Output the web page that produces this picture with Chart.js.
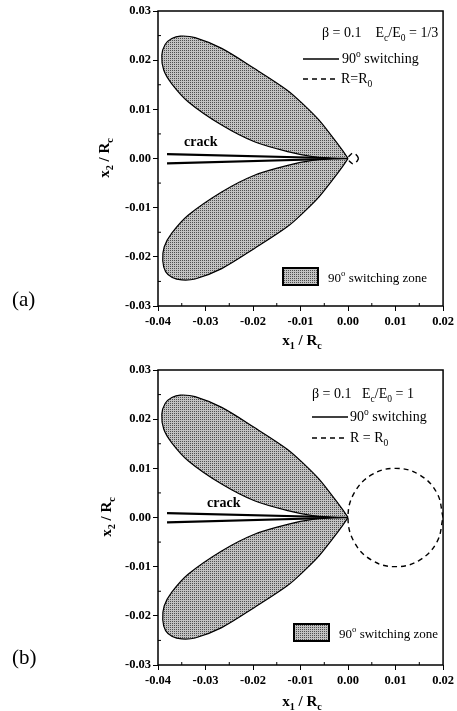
<!DOCTYPE html>
<html>
<head>
<meta charset="utf-8">
<script src="https://cdn.jsdelivr.net/npm/chart.js@4.4.1/dist/chart.umd.min.js"></script>
<style>
  body { margin: 0; background: #fff; }
  #wrap { position: relative; width: 457px; height: 711px; font-family: "Liberation Serif", "Times New Roman", serif; color: #000; }
  canvas { position: absolute; left: 0; }
  .lbl { position: absolute; white-space: nowrap; line-height: 1; transform: translateY(-50%); }
  .ctr { transform: translate(-50%, -50%); }
  .rot { transform: translate(-50%, -50%) rotate(-90deg); }
  sub, sup { font-size: 68%; line-height: 0; }
</style>
</head>
<body>
<div id="wrap">
  <canvas id="chartA" width="457" height="355" style="top:0"></canvas>
  <canvas id="chartB" width="457" height="356" style="top:355px"></canvas>
</div>
<script>
// axes
const xTicks = [-0.04, -0.03, -0.02, -0.01, 0.00, 0.01, 0.02];
const yTicks = [-0.03, -0.02, -0.01, 0.00, 0.01, 0.02, 0.03];

// 90 deg switching zone, upper lobe
const upperLobeX = [0.0000, -0.0012, -0.0033, -0.0061, -0.0094, -0.0128, -0.0197, -0.0266, -0.0322, -0.0353,
                    -0.0371, -0.0385, -0.0392, -0.0388, -0.0371, -0.0336, -0.0266, -0.0197, -0.0127, -0.0075, -0.0030, 0.0000];
const upperLobeY = [0.0000, 0.0017, 0.0044, 0.0078, 0.0110, 0.0139, 0.0183, 0.0224, 0.0246, 0.0249,
                    0.0244, 0.0232, 0.0210, 0.0180, 0.0152, 0.0115, 0.0068, 0.0034, 0.0014, 0.0004, 0.0001, 0.0000];
// lower lobe
const lowerLobeX = [0.0000, -0.0012, -0.0033, -0.0061, -0.0094, -0.0128, -0.0197, -0.0266, -0.0322, -0.0350,
                    -0.0370, -0.0384, -0.0390, -0.0387, -0.0371, -0.0336, -0.0266, -0.0197, -0.0127, -0.0075, -0.0030, 0.0000];
const lowerLobeY = [0.0000, -0.0017, -0.0044, -0.0078, -0.0110, -0.0139, -0.0183, -0.0224, -0.0245, -0.0247,
                    -0.0242, -0.0230, -0.0208, -0.0180, -0.0152, -0.0115, -0.0068, -0.0034, -0.0014, -0.0004, -0.0001, 0.0000];

// crack faces
const crackX = [-0.0381, 0.0000];
const crackUpperY = [0.0009, 0.0000];
const crackLowerY = [-0.0010, 0.0000];

// R = R0 boundary, (a) Ec/E0 = 1/3
const circleAX = [0.0022, 0.0019, 0.0011, 0.0003, 0.0000, 0.0003, 0.0011, 0.0019, 0.0022];
const circleAY = [0.0000, 0.00055, 0.0011, 0.00055, 0.0000, -0.00055, -0.0011, -0.00055, 0.0000];
// (b) Ec/E0 = 1
const circleBX = [0.0200, 0.0187, 0.0150, 0.0100, 0.0050, 0.0013, 0.0000, 0.0013, 0.0050, 0.0100, 0.0150, 0.0187, 0.0200];
const circleBY = [0.0000, 0.0050, 0.0087, 0.0100, 0.0087, 0.0050, 0.0000, -0.0050, -0.0087, -0.0100, -0.0087, -0.0050, 0.0000];

function pts(xs, ys) {
    return xs.map((x, i) => ({ x: x, y: ys[i] }));
}

// halftone grey like the printed fill
const dotCanvas = document.createElement('canvas');
dotCanvas.width = 2;
dotCanvas.height = 2;
const dctx = dotCanvas.getContext('2d');
dctx.fillStyle = '#c2c2c2';
dctx.fillRect(0, 0, 2, 2);
dctx.fillStyle = '#4e4e4e';
dctx.fillRect(0, 0, 1, 1);

const tickFont = { family: 'Liberation Serif', size: 12.5, weight: 'bold' };

// frame, inward minor ticks and legend samples
const framePlugin = {
    id: 'frame',
    afterDraw(chart, args, opts) {
        const { ctx, chartArea: a, scales } = chart;
        ctx.save();
        ctx.strokeStyle = '#000';
        ctx.lineWidth = 1.5;
        ctx.strokeRect(a.left, a.top, a.right - a.left, a.bottom - a.top);

        ctx.lineWidth = 1;
        ctx.beginPath();
        for (let i = 0; i < xTicks.length - 1; i++) {
            const px = scales.x.getPixelForValue((xTicks[i] + xTicks[i + 1]) / 2);
            ctx.moveTo(px, a.bottom);
            ctx.lineTo(px, a.bottom - 3);
        }
        for (let i = 0; i < yTicks.length - 1; i++) {
            const py = scales.y.getPixelForValue((yTicks[i] + yTicks[i + 1]) / 2);
            ctx.moveTo(a.left, py);
            ctx.lineTo(a.left + 3, py);
        }
        ctx.stroke();

        // legend line samples
        const s = opts.samples;
        ctx.lineWidth = 1.3;
        ctx.beginPath();
        ctx.moveTo(s.x0, s.solidY);
        ctx.lineTo(s.x1, s.solidY);
        ctx.stroke();
        ctx.setLineDash([5, 4]);
        ctx.beginPath();
        ctx.moveTo(s.x0, s.dashY);
        ctx.lineTo(s.x1, s.dashY);
        ctx.stroke();
        ctx.setLineDash([]);

        // zone swatch
        const b = opts.swatch;
        ctx.fillStyle = ctx.createPattern(dotCanvas, 'repeat');
        ctx.fillRect(b.x, b.y, b.w, b.h);
        ctx.lineWidth = 2;
        ctx.strokeRect(b.x, b.y, b.w, b.h);
        ctx.restore();
    }
};

function makeChart(id, circX, circY, layout) {
    const ctx = document.getElementById(id).getContext('2d');
    const fillPattern = ctx.createPattern(dotCanvas, 'repeat');
    const lobe = {
        showLine: true,
        fill: 'shape',
        backgroundColor: fillPattern,
        borderColor: '#000',
        borderWidth: 1.2,
        pointRadius: 0,
        tension: 0.3
    };
    const crack = {
        showLine: true,
        borderColor: '#000',
        borderWidth: 2.2,
        pointRadius: 0
    };
    return new Chart(ctx, {
        type: 'scatter',
        data: {
            datasets: [
                Object.assign({ data: pts(upperLobeX, upperLobeY) }, lobe),
                Object.assign({ data: pts(lowerLobeX, lowerLobeY) }, lobe),
                Object.assign({ data: pts(crackX, crackUpperY) }, crack),
                Object.assign({ data: pts(crackX, crackLowerY) }, crack),
                {
                    data: pts(circX, circY),
                    showLine: true,
                    borderColor: '#000',
                    borderWidth: 1.4,
                    borderDash: [5, 4],
                    pointRadius: 0,
                    tension: 0.4
                }
            ]
        },
        options: {
            responsive: false,
            animation: false,
            events: [],
            layout: { padding: layout.padding },
            plugins: {
                legend: { display: false },
                tooltip: { enabled: false },
                frame: { samples: layout.samples, swatch: layout.swatch }
            },
            scales: {
                x: {
                    type: 'linear',
                    min: -0.04,
                    max: 0.02,
                    afterBuildTicks: s => { s.ticks = xTicks.map(v => ({ value: v })); },
                    afterFit: s => { s.height = layout.xHeight; },
                    ticks: { font: tickFont, color: '#000', padding: 3, maxRotation: 0, callback: v => v.toFixed(2) },
                    grid: { drawOnChartArea: false, tickLength: 5, color: '#000', lineWidth: 1 },
                    border: { display: false }
                },
                y: {
                    type: 'linear',
                    min: -0.03,
                    max: 0.03,
                    afterBuildTicks: s => { s.ticks = yTicks.map(v => ({ value: v })); },
                    afterFit: s => { s.width = layout.yWidth; },
                    ticks: { font: tickFont, color: '#000', padding: 2, callback: v => v.toFixed(2) },
                    grid: { drawOnChartArea: false, tickLength: 5, color: '#000', lineWidth: 1 },
                    border: { display: false }
                }
            }
        },
        plugins: [framePlugin]
    });
}

makeChart('chartA', circleAX, circleAY, {
    padding: { left: 95, right: 12, top: 11, bottom: 0 },
    xHeight: 49,
    yWidth: 63,
    samples: { x0: 303, x1: 339, solidY: 59, dashY: 79 },
    swatch: { x: 283, y: 268, w: 35, h: 17 }
});
makeChart('chartB', circleBX, circleBY, {
    padding: { left: 95, right: 10, top: 15, bottom: 0 },
    xHeight: 46,
    yWidth: 63,
    samples: { x0: 312, x1: 348, solidY: 62, dashY: 83 },
    swatch: { x: 294, y: 269, w: 35, h: 17 }
});

// text annotations
const wrap = document.getElementById('wrap');
function addText(html, x, y, size, cls, bold) {
    const el = document.createElement('div');
    el.className = 'lbl' + (cls ? ' ' + cls : '');
    el.style.left = x + 'px';
    el.style.top = y + 'px';
    el.style.fontSize = size + 'px';
    if (bold) el.style.fontWeight = 'bold';
    el.innerHTML = html;
    wrap.appendChild(el);
}

addText('&beta; = 0.1&nbsp;&nbsp;&nbsp;&nbsp;E<sub>c</sub>/E<sub>0</sub> = 1/3', 322, 33, 14);
addText('90<sup>o</sup> switching', 342, 59, 14);
addText('R=R<sub>0</sub>', 341, 79, 14);
addText('crack', 184, 142, 14, '', true);
addText('90<sup>o</sup> switching zone', 328, 277, 13);
addText('x<sub>1</sub> / R<sub>c</sub>', 302, 340, 15, 'ctr', true);
addText('x<sub>2</sub> / R<sub>c</sub>', 104, 158, 15, 'rot', true);
addText('(a)', 12, 299, 21);

addText('&beta; = 0.1&nbsp;&nbsp;&nbsp;E<sub>c</sub>/E<sub>0</sub> = 1', 312, 394, 14);
addText('90<sup>o</sup> switching', 350, 417, 14);
addText('R = R<sub>0</sub>', 350, 438, 14);
addText('crack', 207, 503, 14, '', true);
addText('90<sup>o</sup> switching zone', 339, 633, 13);
addText('x<sub>1</sub> / R<sub>c</sub>', 302, 701, 15, 'ctr', true);
addText('x<sub>2</sub> / R<sub>c</sub>', 106, 517, 15, 'rot', true);
addText('(b)', 12, 657, 21);
</script>
</body>
</html>
